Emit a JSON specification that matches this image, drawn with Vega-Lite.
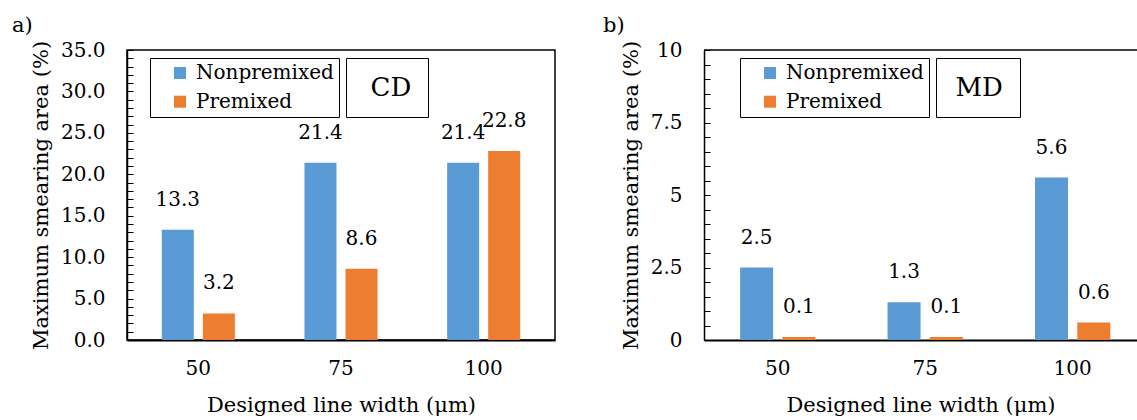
{
  "$schema": "https://vega.github.io/schema/vega-lite/v6.json",
  "padding": {"left": 11, "top": 14, "right": 0, "bottom": 0},
  "config": {
    "font": "DejaVu Serif",
    "view": {"stroke": "#000", "strokeWidth": 1.5},
    "axis": {"labelFont": "DejaVu Serif", "titleFont": "DejaVu Serif", "labelColor": "#000", "titleColor": "#000", "titleFontWeight": "normal", "labelFontSize": 20, "titleFontSize": 21, "grid": false, "domainColor": "#000", "tickColor": "#000"},
    "legend": {"labelFont": "DejaVu Serif", "labelColor": "#000", "strokeColor": "#000", "fillColor": "#fff", "labelLimit": 400},
    "text": {"font": "DejaVu Serif"},
    "title": {"font": "DejaVu Serif", "fontSize": 21, "fontWeight": "normal", "anchor": "start", "frame": "group", "baseline": "alphabetic", "offset": 4, "color": "#000"}
  },
  "datasets": {
    "cd": [
      {"w": 50, "s": "Nonpremixed", "v": 13.3},
      {"w": 50, "s": "Premixed", "v": 3.2},
      {"w": 75, "s": "Nonpremixed", "v": 21.4},
      {"w": 75, "s": "Premixed", "v": 8.6},
      {"w": 100, "s": "Nonpremixed", "v": 21.4},
      {"w": 100, "s": "Premixed", "v": 22.8}
    ],
    "md": [
      {"w": 50, "s": "Nonpremixed", "v": 2.5},
      {"w": 50, "s": "Premixed", "v": 0.1},
      {"w": 75, "s": "Nonpremixed", "v": 1.3},
      {"w": 75, "s": "Premixed", "v": 0.1},
      {"w": 100, "s": "Nonpremixed", "v": 5.6},
      {"w": 100, "s": "Premixed", "v": 0.6}
    ],
    "cdbox": [{"box": "CD"}],
    "mdbox": [{"box": "MD"}],
    "top": [{"v": 10}]
  },
  "spacing": 47,
  "resolve": {
    "scale": {"color": "independent", "shape": "independent", "y": "independent", "x": "independent", "xOffset": "independent"},
    "legend": {"color": "independent", "shape": "independent"}
  },
  "hconcat": [
    {
      "title": {"text": "a)", "dx": -115},
      "width": 428,
      "height": 290,
      "layer": [
        {
          "data": {"name": "cd"},
          "mark": {"type": "bar"},
          "encoding": {
            "x": {"field": "w", "type": "ordinal", "scale": {"paddingInner": 0.488, "paddingOuter": 0.244},
              "axis": {"title": "Designed line width (μm)", "labelAngle": 0, "ticks": false, "domainWidth": 2, "labelPadding": 18.5, "titlePadding": 16}},
            "xOffset": {"field": "s", "type": "nominal", "scale": {"domain": ["Nonpremixed", "Premixed"], "paddingInner": 0.22, "paddingOuter": 0}},
            "y": {"field": "v", "type": "quantitative", "scale": {"domain": [0, 35], "nice": false},
              "axis": {"title": "Maximum smearing area (%)", "values": [0,1,2,3,4,5,6,7,8,9,10,11,12,13,14,15,16,17,18,19,20,21,22,23,24,25,26,27,28,29,30,31,32,33,34,35], "tickCount": 200,
                "labelExpr": "datum.value % 5 === 0 ? format(datum.value, '.1f') : ''", "labelOverlap": false, "tickSize": -6, "labelPadding": 28, "titlePadding": 9, "domainWidth": 1.5}},
            "color": {"field": "s", "type": "nominal", "scale": {"domain": ["Nonpremixed", "Premixed"], "range": ["#5B9BD5", "#ED7D31"]},
              "legend": {"orient": "none", "legendX": 23, "legendY": 8, "title": null, "symbolType": "square", "symbolSize": 144, "symbolStrokeWidth": 0, "labelFontSize": 20, "padding": 5, "rowPadding": 8.7, "symbolOffset": 15, "labelOffset": 6, "strokeColor": "#000"}}
          }
        },
        {
          "data": {"name": "cd"},
          "mark": {"type": "text", "dy": -30, "baseline": "middle", "fontSize": 20, "color": "#000", "font": "DejaVu Serif"},
          "encoding": {
            "x": {"field": "w", "type": "ordinal"},
            "xOffset": {"field": "s", "type": "nominal"},
            "y": {"field": "v", "type": "quantitative"},
            "text": {"field": "v", "type": "quantitative", "format": ".1f"}
          }
        },
        {
          "data": {"name": "cdbox"},
          "mark": {"type": "point", "opacity": 0},
          "encoding": {
            "shape": {"field": "box", "type": "nominal",
              "legend": {"orient": "none", "legendX": 219, "legendY": 8, "title": null, "symbolType": "M0,-0.05H3V0.05H0Z", "symbolSize": 676, "symbolOpacity": 0, "symbolStrokeWidth": 0, "labelFontSize": 26, "padding": 16.5, "labelOffset": -20, "symbolOffset": 2, "strokeColor": "#000"}}
          }
        }
      ]
    },
    {
      "title": {"text": "b)", "dx": -101},
      "width": 433,
      "height": 290,
      "view": {"stroke": null},
      "layer": [
        {
          "data": {"name": "md"},
          "mark": {"type": "bar"},
          "encoding": {
            "x": {"field": "w", "type": "ordinal", "scale": {"paddingInner": 0.489, "paddingOuter": 0.213, "align": 0.575},
              "axis": {"title": "Designed line width (μm)", "labelAngle": 0, "ticks": false, "domainWidth": 2, "labelPadding": 18.5, "titlePadding": 16}},
            "xOffset": {"field": "s", "type": "nominal", "scale": {"domain": ["Nonpremixed", "Premixed"], "paddingInner": 0.22, "paddingOuter": 0}},
            "y": {"field": "v", "type": "quantitative", "scale": {"domain": [0, 10], "nice": false},
              "axis": {"title": "Maximum smearing area (%)", "values": [0,0.5,1,1.5,2,2.5,3,3.5,4,4.5,5,5.5,6,6.5,7,7.5,8,8.5,9,9.5,10], "tickCount": 200,
                "labelExpr": "datum.value % 2.5 === 0 ? format(datum.value, '~g') : ''", "labelOverlap": false, "tickSize": -6, "labelPadding": 28, "titlePadding": 9, "domainWidth": 1.5}},
            "color": {"field": "s", "type": "nominal", "scale": {"domain": ["Nonpremixed", "Premixed"], "range": ["#5B9BD5", "#ED7D31"]},
              "legend": {"orient": "none", "legendX": 36, "legendY": 8, "title": null, "symbolType": "square", "symbolSize": 144, "symbolStrokeWidth": 0, "labelFontSize": 20, "padding": 5, "rowPadding": 8.7, "symbolOffset": 15, "labelOffset": 6, "strokeColor": "#000"}}
          }
        },
        {
          "data": {"name": "md"},
          "mark": {"type": "text", "dy": -30, "baseline": "middle", "fontSize": 20, "color": "#000", "font": "DejaVu Serif"},
          "encoding": {
            "x": {"field": "w", "type": "ordinal"},
            "xOffset": {"field": "s", "type": "nominal"},
            "y": {"field": "v", "type": "quantitative"},
            "text": {"field": "v", "type": "quantitative", "format": ".1f"}
          }
        },
        {
          "data": {"name": "top"},
          "mark": {"type": "rule", "color": "#000", "strokeWidth": 1.5},
          "encoding": {"y": {"field": "v", "type": "quantitative"}}
        },
        {
          "data": {"name": "mdbox"},
          "mark": {"type": "point", "opacity": 0},
          "encoding": {
            "shape": {"field": "box", "type": "nominal",
              "legend": {"orient": "none", "legendX": 232, "legendY": 8, "title": null, "symbolType": "M0,-0.05H3V0.05H0Z", "symbolSize": 676, "symbolOpacity": 0, "symbolStrokeWidth": 0, "labelFontSize": 26, "padding": 16.5, "labelOffset": -25, "symbolOffset": 2, "strokeColor": "#000"}}
          }
        }
      ]
    }
  ]
}
